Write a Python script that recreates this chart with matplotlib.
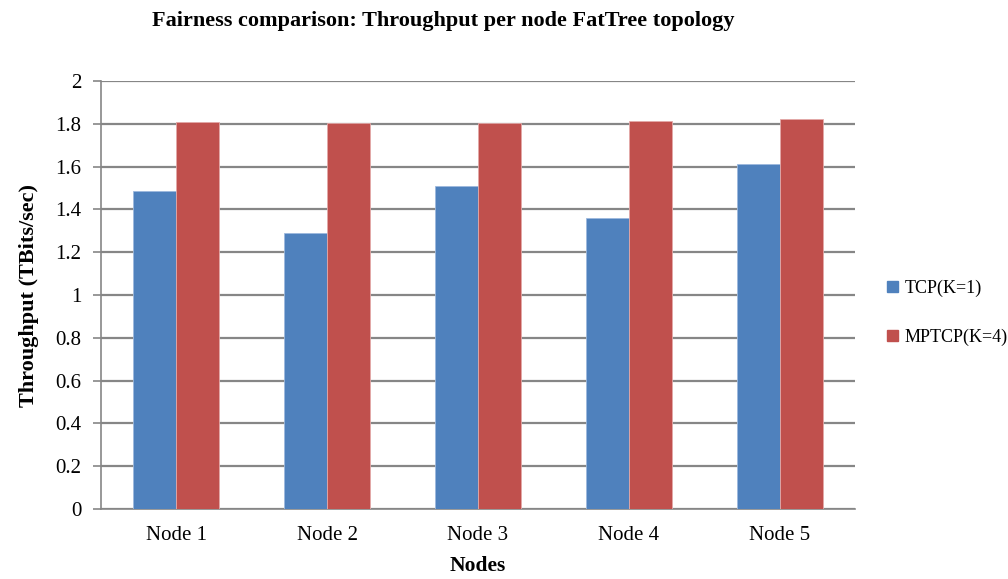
import numpy as np
import matplotlib.pyplot as plt
from matplotlib.patches import Patch

nodes = ["Node 1", "Node 2", "Node 3", "Node 4", "Node 5"]
tcp = [1.485, 1.291, 1.511, 1.358, 1.611]
mptcp = [1.810, 1.806, 1.805, 1.814, 1.822]
yticks = [0, 0.2, 0.4, 0.6, 0.8, 1, 1.2, 1.4, 1.6, 1.8, 2]
ytick_labels = ["0", "0.2", "0.4", "0.6", "0.8", "1", "1.2", "1.4", "1.6", "1.8", "2"]

plt.rcParams['font.family'] = ['Liberation Serif', 'DejaVu Serif']

blue = "#4F81BD"
red = "#C0504D"
grid_c = "#868686"

fig = plt.figure(figsize=(10.08, 5.79), dpi=100)
ax = fig.add_axes([0.1002, 0.1209, 0.748, 0.7392])

x = np.arange(len(nodes))
w = 0.285
ax.bar(x - w/2, tcp, w, color=blue, edgecolor="#9DB9DD", linewidth=0.6, zorder=3)
ax.bar(x + w/2, mptcp, w, color=red, edgecolor="#E3A9A8", linewidth=0.6, zorder=3)

ax.set_xlim(-0.5, len(nodes) - 0.5)
ax.set_ylim(0, 2)
ax.set_yticks(yticks)
ax.set_yticklabels(ytick_labels, fontsize=15)
ax.yaxis.grid(True, color=grid_c, linewidth=1.6, zorder=0)

ax.set_xticks(x)
ax.set_xticklabels(nodes, fontsize=15)
ax.tick_params(axis='x', length=0, pad=12)
ax.tick_params(axis='y', length=6, color=grid_c, width=1.2, pad=8)

for s in ["top", "right"]:
    ax.spines[s].set_visible(False)
for s in ["left", "bottom"]:
    ax.spines[s].set_color(grid_c)
    ax.spines[s].set_linewidth(1.2)

ax.set_xlabel("Nodes", fontsize=15.5, fontweight="bold", labelpad=8)
ax.set_ylabel("Throughput (TBits/sec)", fontsize=16, fontweight="bold", labelpad=12)

fig.text(443/1008, 1 - 21/579, "Fairness comparison: Throughput per node FatTree topology",
         ha="center", va="center", fontsize=16, fontweight="bold")

handles = [Patch(color=blue, label="TCP(K=1)"), Patch(color=red, label="MPTCP(K=4)")]
fig.legend(handles=handles, loc="center left", bbox_to_anchor=(0.880, 0.46),
           frameon=False, fontsize=13, handlelength=0.6, handleheight=0.6,
           handletextpad=0.35, labelspacing=1.75, borderaxespad=0, borderpad=0)

fig.savefig("out.png", dpi=100)
